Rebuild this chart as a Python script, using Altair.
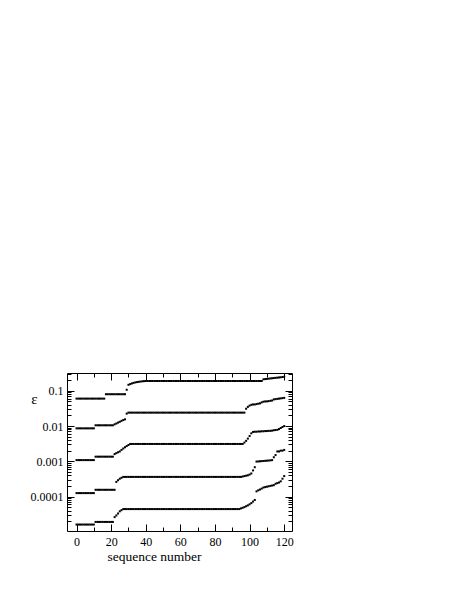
import altair as alt
import pandas as pd

# ---- data (sequence number 0..120, five series) ----
seq = list(range(121))

s1 = ([0.060] * 17 + [0.080] * 12 + [0.107] +
      [0.148, 0.155, 0.162, 0.168, 0.173, 0.177, 0.180, 0.183, 0.186, 0.188, 0.190] +
      [0.190] * 67 +
      [0.212, 0.215, 0.218, 0.221, 0.224, 0.227, 0.230, 0.233, 0.236, 0.239, 0.242, 0.246, 0.250])

s2 = ([0.0086] * 11 + [0.0105] * 11 +
      [0.0112, 0.0118, 0.0125, 0.0132, 0.0140, 0.0148, 0.0155] +
      [0.0225] + [0.024] * 68 +
      [0.031, 0.035, 0.038, 0.040, 0.041, 0.041, 0.042, 0.043, 0.044,
       0.047, 0.049, 0.050, 0.050, 0.051, 0.052, 0.053,
       0.057, 0.058, 0.059, 0.060, 0.061, 0.062, 0.063])

s3 = ([0.00108] * 11 + [0.00135] * 11 +
      [0.0016, 0.0017, 0.0018, 0.0019, 0.0021, 0.0023, 0.0025, 0.0027, 0.0029] +
      [0.0031] * 66 +
      [0.0034, 0.0038, 0.0044, 0.0052, 0.0062, 0.0068,
       0.0069, 0.0069, 0.0070, 0.0070, 0.0071, 0.0071, 0.0072, 0.0072, 0.0073, 0.0073, 0.0074,
       0.0076, 0.0077, 0.0078, 0.0082, 0.0088, 0.0094, 0.0100])

s4 = ([0.000125] * 11 + [0.000155] * 12 +
      [0.00026, 0.00029, 0.00032, 0.00034] + [0.00036] * 69 +
      [0.00037, 0.00038, 0.00039, 0.00040, 0.00042, 0.00045, 0.00055, 0.00068,
       0.00098, 0.00099, 0.00100, 0.00101, 0.00102, 0.00103, 0.00104, 0.00105, 0.00106, 0.00108,
       0.0013, 0.0015, 0.0019, 0.0019, 0.0020, 0.0020, 0.0021])

s5 = ([1.6e-5] * 11 + [1.9e-5] * 11 +
      [2.6e-5, 2.9e-5, 3.3e-5, 3.8e-5, 4.1e-5] + [4.4e-5] * 68 +
      [4.6e-5, 4.8e-5, 5.0e-5, 5.3e-5, 5.6e-5, 6.0e-5, 6.5e-5, 7.2e-5, 8.0e-5,
       1.40e-4, 1.50e-4, 1.58e-4, 1.68e-4,
       1.80e-4, 1.85e-4, 1.90e-4, 1.95e-4, 2.00e-4, 2.05e-4, 2.10e-4,
       2.30e-4, 2.40e-4, 2.50e-4, 2.70e-4, 3.20e-4, 3.80e-4])

series_names = ["s1", "s2", "s3", "s4", "s5"]
series_values = [s1, s2, s3, s4, s5]

# axis ticks / labels
x_major = [0, 20, 40, 60, 80, 100, 120]
x_ticks = [0, 10, 20, 30, 40, 50, 60, 70, 80, 90, 100, 110, 120]
y_major = [0.1, 0.01, 0.001, 0.0001]
y_labels = ["0.1", "0.01", "0.001", "0.0001"]
X_DOMAIN = [-5.5, 124.5]
Y_DOMAIN = [1.05e-5, 0.32]

y_ticks = [float(f"{k}e{e}") for e in range(-5, 0) for k in range(1, 10)
           if Y_DOMAIN[0] <= float(f"{k}e{e}") <= Y_DOMAIN[1]]

rows = []
for name, vals in zip(series_names, series_values):
    assert len(vals) == len(seq), (name, len(vals))
    for s, v in zip(seq, vals):
        rows.append({"series": name, "seq": s, "eps": v})
df = pd.DataFrame(rows)

FONT = "Liberation Serif"

y_test = "indexof([" + ",".join(repr(v) for v in y_major) + "], datum.value) >= 0"
x_test = "indexof([" + ",".join(str(v) for v in x_major) + "], datum.value) >= 0"
y_label_expr = " : ".join(f"datum.value == {v!r} ? '{t}'" for v, t in zip(y_major, y_labels)) + " : ''"
x_label_expr = f"{x_test} ? datum.label : ''"

y_tick_size = {"condition": {"test": y_test, "value": -7}, "value": -4}
x_tick_size = {"condition": {"test": x_test, "value": -7}, "value": -4}

xs = alt.Scale(domain=X_DOMAIN, nice=False, zero=False)
ys = alt.Scale(type="log", domain=Y_DOMAIN, nice=False)

base = alt.Chart(df)

main = base.mark_square(size=4, color="black", opacity=1).encode(
    x=alt.X("seq:Q", scale=xs,
            axis=alt.Axis(orient="bottom", values=x_ticks, labelExpr=x_label_expr,
                          tickSize=x_tick_size, labelPadding=12, domain=False,
                          title="sequence number", titleX=87, titleY=29,
                          titleBaseline="alphabetic", titleAlign="center",
                          titleFontSize=13.5)),
    y=alt.Y("eps:Q", scale=ys,
            axis=alt.Axis(orient="left", values=y_ticks, labelExpr=y_label_expr,
                          tickSize=y_tick_size, labelPadding=11, domain=False,
                          title="ε", titleAngle=0, titleX=-33, titleY=25,
                          titleAlign="center", titleBaseline="middle",
                          titleFontSize=15)),
    detail="series:N",
)

mirror = base.mark_square(size=4, opacity=0).encode(
    x=alt.X("seq:Q", scale=xs,
            axis=alt.Axis(orient="top", values=x_ticks, labels=False,
                          tickSize=x_tick_size, domain=False, title=None)),
    y=alt.Y("eps:Q", scale=ys,
            axis=alt.Axis(orient="right", values=y_ticks, labels=False,
                          tickSize=y_tick_size, domain=False, title=None)),
)

chart = alt.layer(main, mirror).resolve_scale(x="independent", y="independent").properties(
    width=225, height=158,
    autosize=alt.AutoSizeParams(type="none"),
    padding={"left": 59, "top": 365, "right": 30, "bottom": 60},
).configure_view(stroke="black", strokeWidth=1).configure_axis(
    labelFont=FONT, titleFont=FONT, labelFontSize=12, titleFontSize=13,
    labelColor="black", titleColor="black", tickColor="black", tickWidth=1,
    titleFontWeight="normal", grid=False,
)

chart.save("out.html", embed_options={"renderer": "svg", "actions": False})
